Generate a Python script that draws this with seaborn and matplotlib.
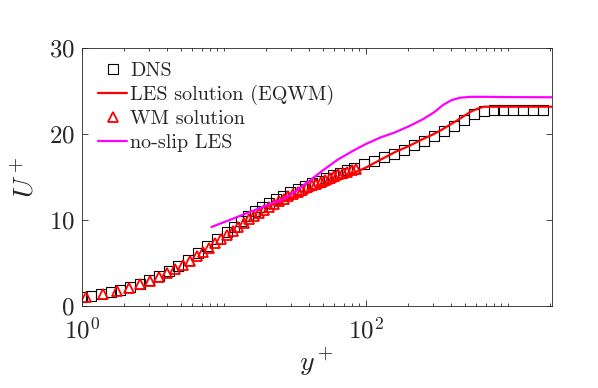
import matplotlib
matplotlib.use("Agg")
import matplotlib.pyplot as plt
import seaborn as sns
from matplotlib.ticker import LogLocator, NullFormatter, FixedLocator

# DNS reference profile
dns_yplus = [1.00, 1.17, 1.37, 1.60, 1.87, 2.19, 2.56, 2.99, 3.50, 4.09, 4.79, 5.60,
             6.55, 7.66, 8.95, 10.47,
             11.75, 13.18, 14.79, 16.60, 18.62, 20.89, 23.44, 26.30, 29.51, 33.11,
             37.15, 41.69, 46.77, 52.48, 58.88, 66.07, 74.13, 83.18,
             97.7, 114.8, 134.9, 158.5, 186.2, 218.8, 257.0, 302.0, 354.8, 416.9,
             489.8, 575.4, 676.1, 794.3, 933.3, 1096, 1288, 1514, 1778]
dns_u = [1.01, 1.18, 1.39, 1.62, 1.89, 2.21, 2.58, 3.02, 3.52, 4.07, 4.71, 5.41,
         6.16, 6.96, 7.78, 8.62,
         9.25, 9.9, 10.5, 11.05, 11.55, 12.0, 12.45, 12.85, 13.25, 13.6,
         13.95, 14.3, 14.6, 14.9, 15.2, 15.5, 15.8, 16.1,
         16.5, 16.9, 17.3, 17.75, 18.2, 18.7, 19.25, 19.8, 20.4, 21.0,
         21.7, 22.35, 22.75, 22.85, 22.85, 22.85, 22.85, 22.85, 22.85]

# LES solution with equilibrium wall model
les_yplus = [20, 24, 30, 37, 45, 53, 60, 70, 80, 100, 126, 160, 200, 250, 300,
             350, 400, 450, 500, 560, 620, 680, 800, 1200, 2040]
les_u = [11.6, 12.0, 12.5, 13.0, 13.6, 14.0, 14.4, 14.9, 15.4, 16.1, 17.0, 17.9,
         18.6, 19.4, 20.0, 20.6, 21.2, 21.7, 22.2, 22.7, 23.0, 23.2, 23.2, 23.2, 23.2]

# wall-model ODE solution
wm_yplus = [1.08, 1.42, 1.78, 2.17, 2.59, 3.04, 3.51, 4.02, 4.57, 5.15, 5.78, 6.45,
            7.16, 7.93, 8.75, 9.62, 10.56, 11.57, 12.64, 13.79, 15.02, 16.33, 17.74,
            19.25, 20.86, 22.58, 24.43, 26.40, 28.52, 30.78, 33.20, 35.79, 38.56,
            41.53, 44.70, 48.09, 51.72, 55.61, 59.77, 64.22, 68.98, 74.07, 79.52, 85.35]
wm_u = [1.07, 1.40, 1.75, 2.12, 2.52, 2.95, 3.38, 3.84, 4.31, 4.79, 5.28, 5.78,
        6.28, 6.79, 7.29, 7.79, 8.28, 8.76, 9.22, 9.66, 10.08, 10.48, 10.86,
        11.22, 11.56, 11.88, 12.19, 12.49, 12.78, 13.05, 13.31, 13.56, 13.80,
        14.03, 14.26, 14.48, 14.70, 14.91, 15.11, 15.31, 15.48, 15.62, 15.78, 15.95]

# no-slip LES
ns_yplus = [8.2, 10, 12, 15, 18, 21, 25, 30, 35, 40, 50, 63, 80, 100, 126, 160,
            200, 250, 300, 350, 400, 460, 550, 700, 1000, 2040]
ns_u = [9.2, 9.75, 10.25, 10.9, 11.4, 11.85, 12.3, 13.0, 13.85, 14.55, 15.8, 17.0,
        18.0, 18.85, 19.6, 20.2, 20.9, 21.7, 22.5, 23.4, 23.95, 24.25, 24.35, 24.35,
        24.32, 24.3]

sns.set_style("ticks")
plt.rcParams["font.family"] = ["cmr10"]
plt.rcParams["mathtext.fontset"] = "cm"
plt.rcParams["axes.formatter.use_mathtext"] = True
gray = (0.15, 0.15, 0.15)

fig = plt.figure(figsize=(5.98, 3.88), dpi=100)
ax = fig.add_axes([0.1366, 0.2113, 0.786, 0.6642])

sns.lineplot(x=dns_yplus, y=dns_u, ax=ax, sort=False, estimator=None,
             linestyle="", marker="s", markersize=6.5, markerfacecolor="none",
             markeredgecolor="black", markeredgewidth=0.8, label="DNS")
sns.lineplot(x=les_yplus, y=les_u, ax=ax, sort=False, estimator=None,
             color="red", linewidth=1.6, label="LES solution (EQWM)")
sns.lineplot(x=wm_yplus, y=wm_u, ax=ax, sort=False, estimator=None,
             linestyle="", marker="^", markersize=6.5, markerfacecolor="none",
             markeredgecolor="red", markeredgewidth=1.3, label="WM solution")
sns.lineplot(x=ns_yplus, y=ns_u, ax=ax, sort=False, estimator=None,
             color="magenta", linewidth=1.6, label="no-slip LES")

ax.set_xscale("log")
ax.set_xlim(1, 2040)
ax.set_ylim(0, 30)
ax.xaxis.set_major_locator(FixedLocator([1, 100]))
ax.xaxis.set_minor_locator(LogLocator(base=10, subs=range(1, 10), numticks=20))
ax.xaxis.set_minor_formatter(NullFormatter())
ax.set_yticks([0, 10, 20, 30])

ax.tick_params(which="both", direction="in", top=True, right=True,
               colors=gray, labelsize=18, width=0.6)
ax.tick_params(which="major", length=4.5)
ax.tick_params(which="minor", length=2.5)
ax.tick_params(axis="x", pad=8)
ax.tick_params(axis="y", pad=5)
for sp in ax.spines.values():
    sp.set_color(gray)
    sp.set_linewidth(0.6)

ax.set_xlabel("$y^+$", fontsize=20, color=gray, labelpad=2)
ax.set_ylabel("$U^+$", fontsize=20, color=gray, labelpad=7)

leg = ax.legend(loc="upper left", bbox_to_anchor=(0.035, 0.948), frameon=False,
                fontsize=14.5, handlelength=1.45, handletextpad=0.15,
                labelspacing=0.26, borderpad=0, borderaxespad=0)

fig.savefig("out.png", dpi=100)
